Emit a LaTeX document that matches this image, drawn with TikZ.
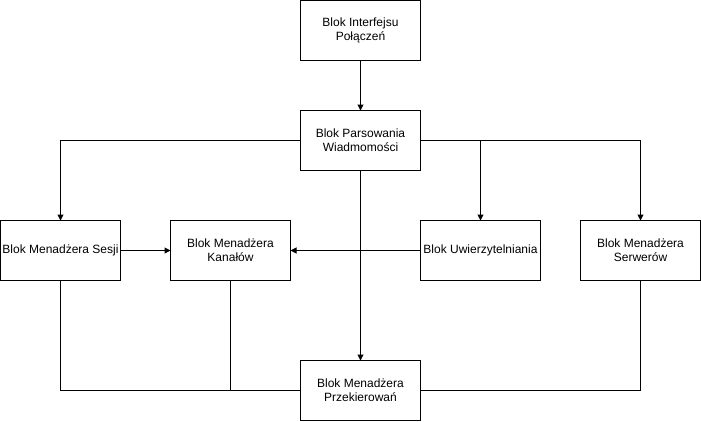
\documentclass[tikz,border=0pt]{standalone}
\usepackage{fontspec}
\setmainfont{Liberation Sans}
\usetikzlibrary{arrows.meta,positioning}

\begin{document}
\begin{tikzpicture}[x=1pt,y=-1pt,
    blok/.style={shape=rectangle,draw,line width=1pt,minimum width=120pt,minimum height=60pt,
      outer sep=0pt,inner sep=1pt,align=center,font=\fontsize{12pt}{14pt}\selectfont},
    conn/.style={line width=1pt},
    arr/.style={conn,-{Triangle[width=6pt,length=6pt]}}]
  \useasboundingbox (0,0) rectangle (701,421);
  % blocks
  \node[blok] (iface)    at (360.5,30.5)  {Blok Interfejsu\\Połączeń};
  \node[blok] (parse)    at (360.5,140.5) {Blok Parsowania\\Wiadmomości};
  \node[blok] (session)  at (60.5,250.5)  {Blok Menadżera Sesji};
  \node[blok] (channel)  at (230.5,250.5) {Blok Menadżera\\Kanałów};
  \node[blok] (auth)     at (480.5,250.5) {Blok Uwierzytelniania};
  \node[blok] (server)   at (640.5,250.5) {Blok Menadżera\\Serwerów};
  \node[blok] (redirect) at (360.5,390.5) {Blok Menadżera\\Przekierowań};
  % connectors
  \draw[arr] (iface) -- (parse);
  \draw[arr] (parse.west) -| (session.north);
  \draw[arr] (parse.east) -| (server.north);
  \draw[arr] (parse.east) -| (auth.north);
  \draw[arr] (parse) -- (redirect);
  \draw[arr] (session) -- (channel);
  \draw[arr] (auth) -- (channel);
  \draw[conn] (session.south) |- (redirect.west);
  \draw[conn] (channel.south) |- (redirect.west);
  \draw[conn] (server.south) |- (redirect.east);
\end{tikzpicture}
\end{document}
